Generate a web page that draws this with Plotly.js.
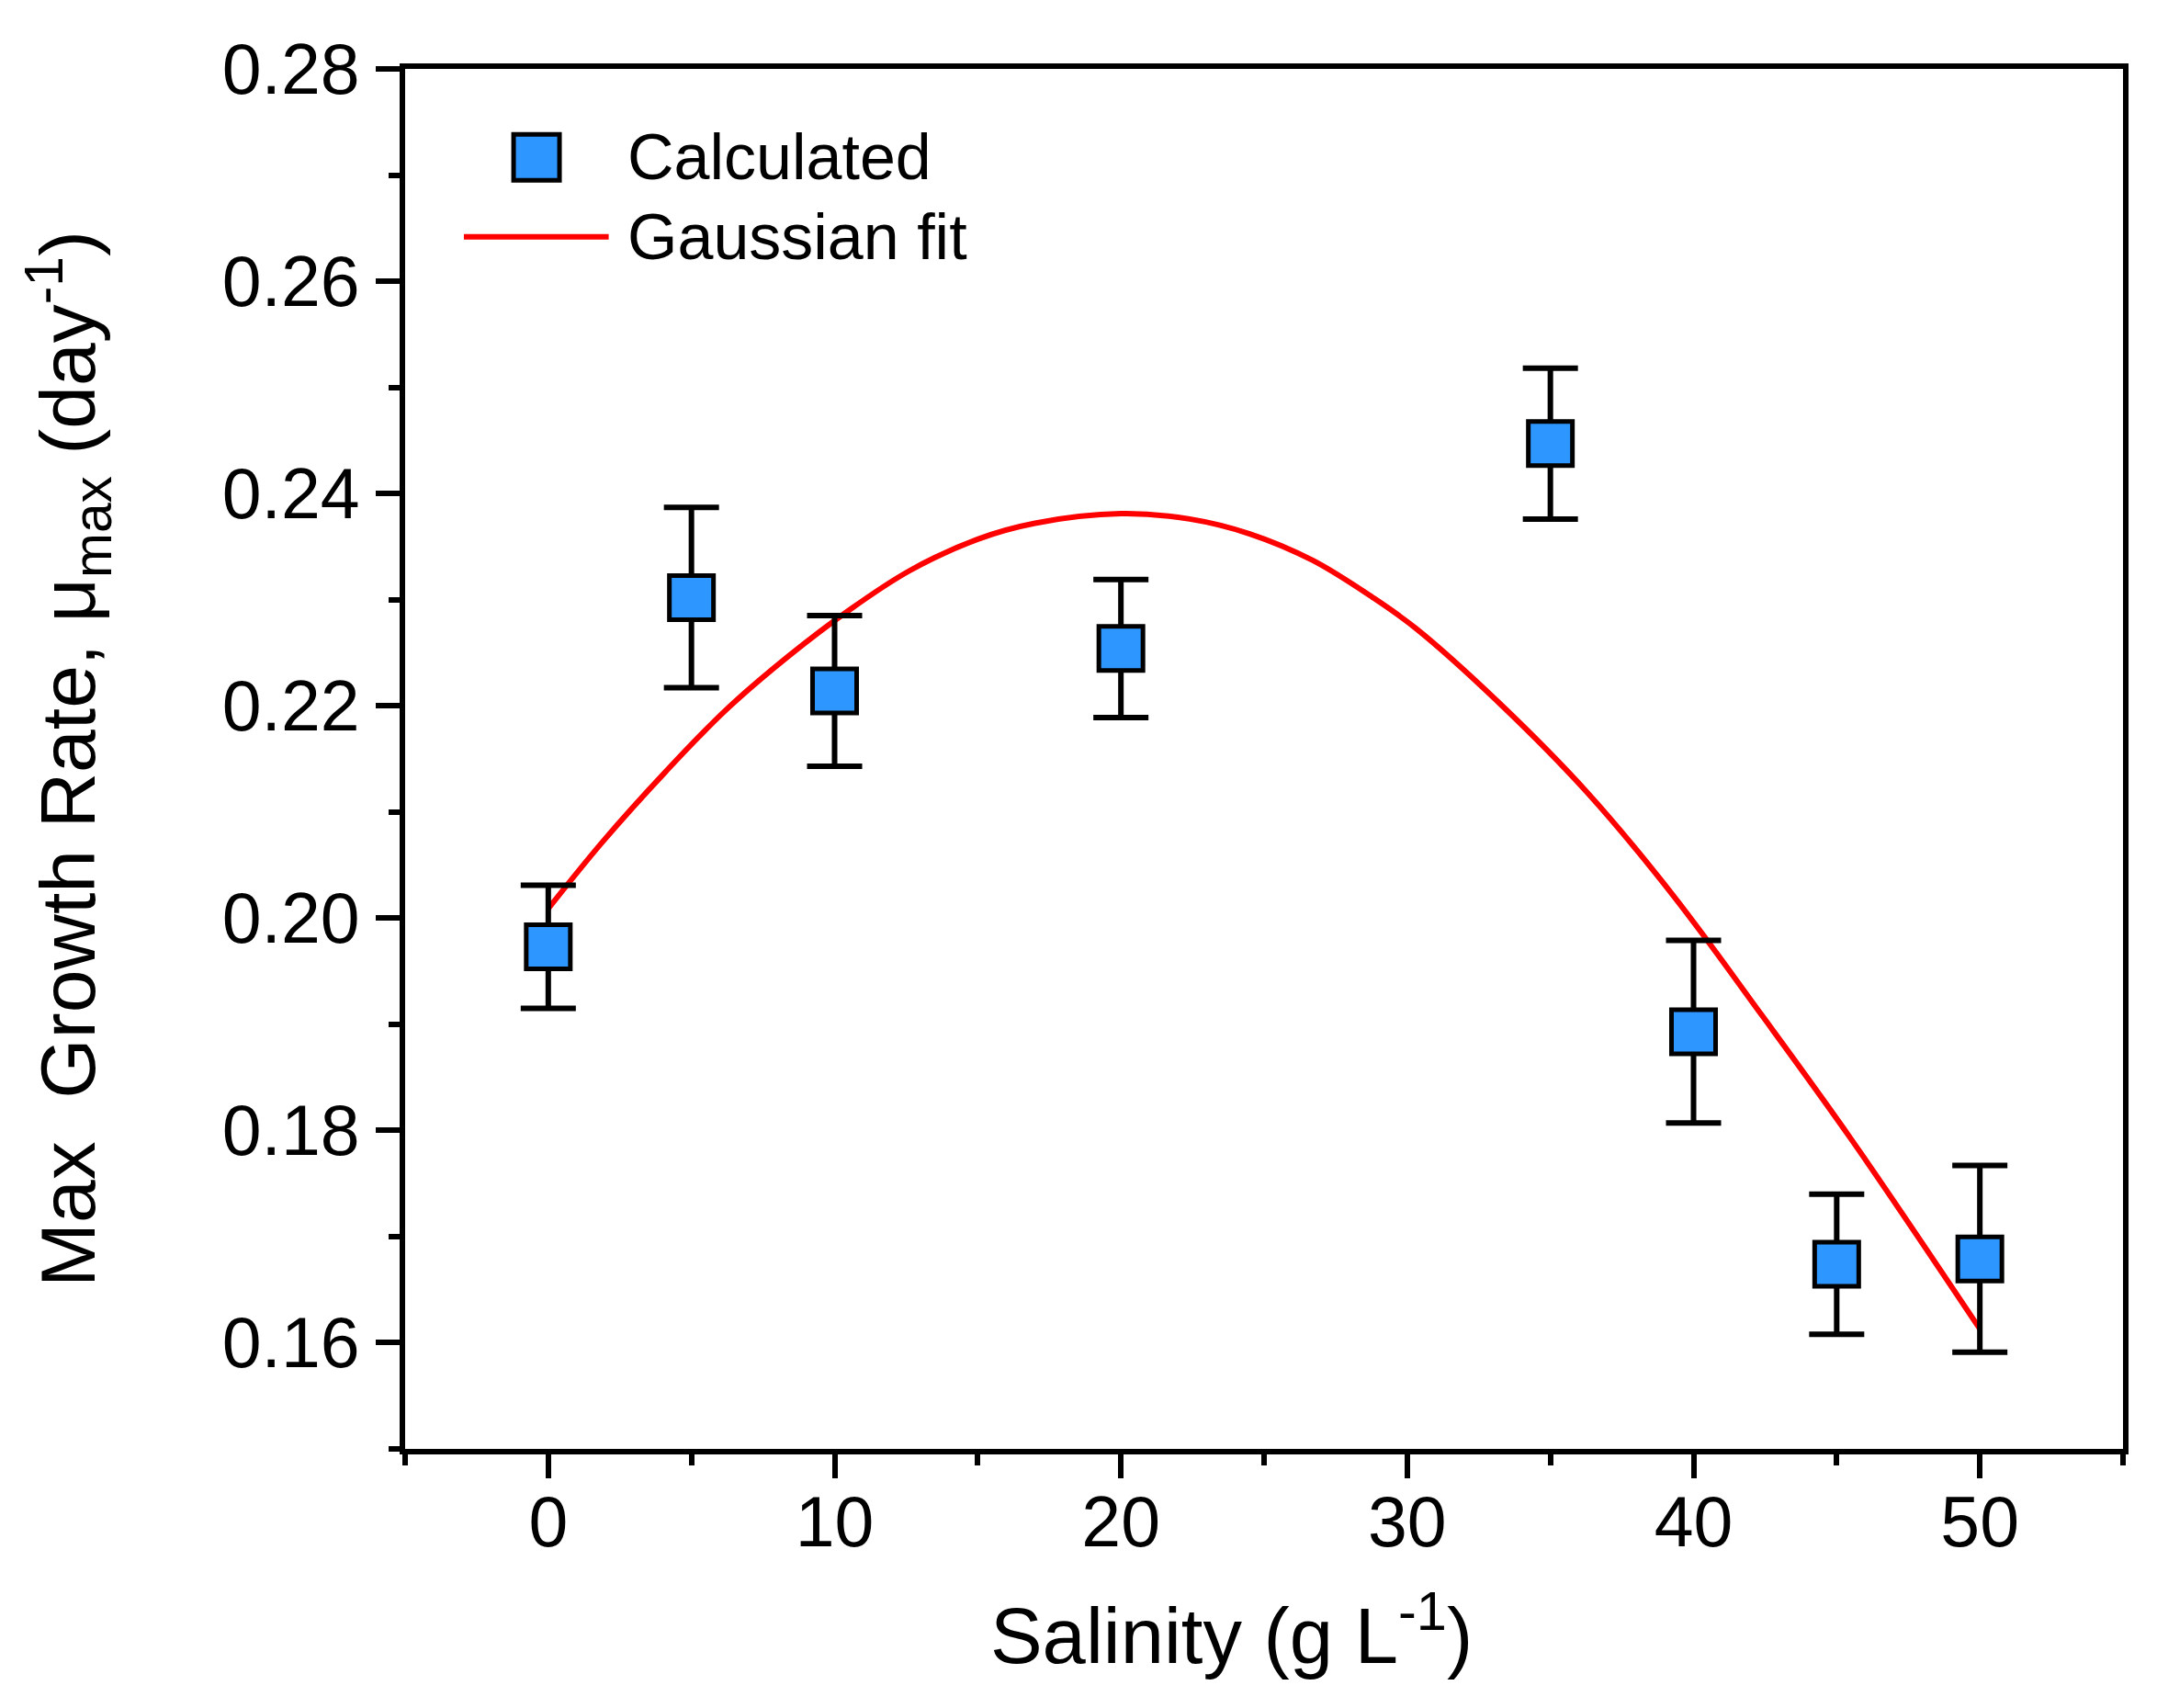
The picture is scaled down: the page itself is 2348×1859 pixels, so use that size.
<!DOCTYPE html>
<html>
<head>
<meta charset="utf-8">
<script src="https://cdn.plot.ly/plotly-3.0.1.min.js"></script>
<style>html,body{margin:0;padding:0;background:#fff;}#chart{width:2348px;height:1859px;}</style>
</head>
<body>
<div id="chart"></div>
<script>
var salinity = [0, 5, 10, 20, 35, 40, 45, 50];
var muMax = [0.1973, 0.2302, 0.2214, 0.2254, 0.2447, 0.1893, 0.1674, 0.1679];
var muErr = [0.0058, 0.0085, 0.0071, 0.0065, 0.0071, 0.0086, 0.0066, 0.0088];

// Gaussian fit curve
var fitX = [0, 1.9, 4.1, 6.2, 8.4, 10.5, 12.6, 15.0, 17.0, 20.0, 22.4, 24.5, 26.7, 28.8, 30.3, 33.2, 36.3, 39.3, 42.4, 45.5, 50];
var fitY = [0.2009, 0.2072, 0.2138, 0.2196, 0.2247, 0.2290, 0.2327, 0.2357, 0.2372, 0.2381, 0.2376, 0.2362, 0.2337, 0.2302, 0.2273, 0.2203, 0.2118, 0.2021, 0.1908, 0.1792, 0.1613];

var legendNames = ['Calculated', 'Gaussian fit'];

var FONT = 'Liberation Sans, Arial, Helvetica, sans-serif';
var BLUE = '#2E96FF';

var traces = [
  {
    x: fitX, y: fitY, type: 'scatter', mode: 'lines', name: legendNames[1],
    line: {color: '#FF0000', width: 6, shape: 'spline', smoothing: 1},
    showlegend: false, hoverinfo: 'skip'
  },
  {
    x: salinity, y: muMax, type: 'scatter', mode: 'markers', name: legendNames[0],
    marker: {symbol: 'square', size: 48, color: BLUE, line: {color: '#000', width: 5}},
    error_y: {type: 'data', array: muErr, visible: true, color: '#000', thickness: 6, width: 30},
    showlegend: false
  }
];

var axisCommon = {
  showline: true, linecolor: '#000', linewidth: 6, mirror: true,
  ticks: 'outside', tickcolor: '#000', tickwidth: 6, ticklen: 26,
  showgrid: false, zeroline: false,
  tickfont: {family: FONT, size: 77, color: '#000'}
};

var layout = {
  width: 2348, height: 1859,
  paper_bgcolor: '#fff', plot_bgcolor: '#fff',
  margin: {l: 441, r: 37, t: 75, b: 282},
  font: {family: FONT, color: '#000'},
  showlegend: false,
  xaxis: Object.assign({}, axisCommon, {
    range: [-5, 55], tick0: 0, dtick: 10, ticklabelstandoff: -18,
    minor: {dtick: 5, ticks: 'outside', ticklen: 12, tickwidth: 6, tickcolor: '#000'},
    title: {text: 'Salinity (g L<sup>-1</sup>)&nbsp;&nbsp;&nbsp;', font: {family: FONT, size: 85, color: '#000'}, standoff: 54}
  }),
  yaxis: Object.assign({}, axisCommon, {
    range: [0.15, 0.28], tick0: 0.16, dtick: 0.02, tickformat: '.2f', ticklabelstandoff: 2,
    minor: {dtick: 0.01, ticks: 'outside', ticklen: 12, tickwidth: 6, tickcolor: '#000'},
    title: {text: 'Max&nbsp; Growth Rate, \u03bc<sub>max</sub> (day<sup>-1</sup>)', font: {family: FONT, size: 84, color: '#000'}, standoff: 112}
  }),
  shapes: [
    {type: 'rect', xref: 'paper', yref: 'paper', xsizemode: 'pixel', ysizemode: 'pixel',
     xanchor: 0.0765, yanchor: 0.9359, x0: -25, x1: 25, y0: -25, y1: 25,
     fillcolor: BLUE, line: {color: '#000', width: 5}},
    {type: 'line', xref: 'paper', yref: 'paper', x0: 0.0342, x1: 0.1185, y0: 0.8783, y1: 0.8783,
     line: {color: '#FF0000', width: 6}}
  ],
  annotations: [
    {xref: 'paper', yref: 'paper', x: 0.1285, y: 0.9359, xanchor: 'left', yanchor: 'middle',
     text: legendNames[0], showarrow: false, font: {family: FONT, size: 70, color: '#000'}},
    {xref: 'paper', yref: 'paper', x: 0.1285, y: 0.8783, xanchor: 'left', yanchor: 'middle',
     text: legendNames[1], showarrow: false, font: {family: FONT, size: 70, color: '#000'}}
  ]
};

Plotly.newPlot('chart', traces, layout, {displayModeBar: false, staticPlot: true});
</script>
</body>
</html>
